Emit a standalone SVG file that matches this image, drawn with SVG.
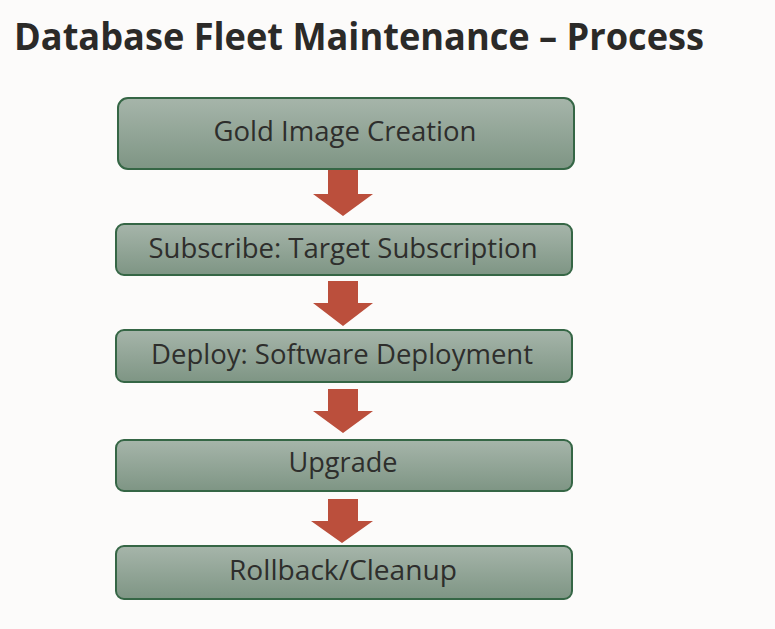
<svg xmlns="http://www.w3.org/2000/svg" width="775" height="629" viewBox="0 0 775 629">
<defs>
<linearGradient id="g" x1="0" y1="0" x2="0" y2="1">
<stop offset="0" stop-color="#a6b5aa"/>
<stop offset="1" stop-color="#7e9584"/>
</linearGradient>
<style>
.box{fill:url(#g);stroke:#356645;stroke-width:2}
.lbl{font-family:"Open Sans","Noto Sans",sans-serif;font-size:27px;fill:#2e2e2c;text-anchor:middle}
.arr{fill:#bb4f3c}
.title{font-family:"Open Sans","Noto Sans",sans-serif;font-weight:bold;font-size:38px;fill:#2b2a28}
</style>
</defs>
<rect width="775" height="629" fill="#fcfbfa"/>
<text class="title" x="14" y="50" textLength="690" lengthAdjust="spacingAndGlyphs">Database Fleet Maintenance – Process</text>
<g id="n1"><rect class="box" x="118" y="98" width="456" height="71" rx="10"/><text class="lbl" x="345" y="141" textLength="263" lengthAdjust="spacingAndGlyphs">Gold Image Creation</text></g>
<g id="n2"><rect class="box" x="116" y="224" width="456" height="51" rx="8"/><text class="lbl" x="343" y="258" textLength="389" lengthAdjust="spacingAndGlyphs">Subscribe: Target Subscription</text></g>
<g id="n3"><rect class="box" x="116" y="330" width="456" height="52" rx="8"/><text class="lbl" x="342" y="364" textLength="382" lengthAdjust="spacingAndGlyphs">Deploy: Software Deployment</text></g>
<g id="n4"><rect class="box" x="116" y="440" width="456" height="51" rx="8"/><text class="lbl" x="343" y="472" textLength="109" lengthAdjust="spacingAndGlyphs">Upgrade</text></g>
<g id="n5"><rect class="box" x="116" y="546" width="456" height="53" rx="8"/><text class="lbl" x="343" y="580" textLength="228" lengthAdjust="spacingAndGlyphs">Rollback/Cleanup</text></g>
<g id="connectors">
<polygon class="arr" points="328,170 358,170 358,194 373,194 343,216 313,194 328,194"/>
<polygon class="arr" points="328,281 358,281 358,303 373,303 343,326 313,303 328,303"/>
<polygon class="arr" points="328,389 358,389 358,411 373,411 343,433 313,411 328,411"/>
<polygon class="arr" points="328,499 358,499 358,521 373,521 342,543 311,521 328,521"/>
</g>
</svg>
